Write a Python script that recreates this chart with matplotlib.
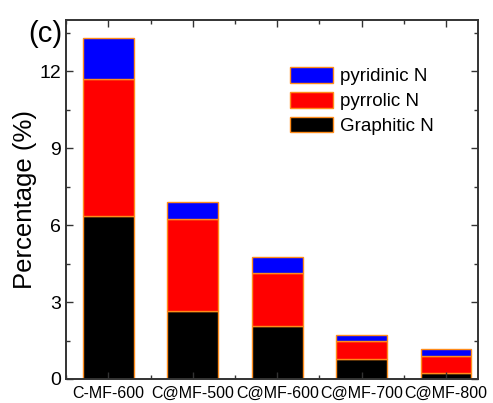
import matplotlib
matplotlib.use('Agg')
import matplotlib.pyplot as plt
from matplotlib.ticker import MultipleLocator
import numpy as np

plt.rcParams['font.family'] = ['Liberation Sans', 'DejaVu Sans']

samples = ['C-MF-600', 'C@MF-500', 'C@MF-600', 'C@MF-700', 'C@MF-800']
graphitic = [6.35, 2.67, 2.07, 0.77, 0.25]
pyrrolic = [5.35, 3.58, 2.08, 0.72, 0.63]
pyridinic = [1.62, 0.64, 0.61, 0.23, 0.28]

x = np.arange(1, len(samples) + 1)
edge = '#ff8c1a'

fig = plt.figure(figsize=(4.93, 4.03), dpi=100)
ax = fig.add_axes([0.134, 0.0596, 0.836, 0.8904])

b1 = ax.bar(x, graphitic, width=0.6, color='black', edgecolor=edge, linewidth=1, label='Graphitic N')
b2 = ax.bar(x, pyrrolic, width=0.6, bottom=graphitic, color='red', edgecolor=edge, linewidth=1, label='pyrrolic N')
bot = np.array(graphitic) + np.array(pyrrolic)
b3 = ax.bar(x, pyridinic, width=0.6, bottom=bot, color='blue', edgecolor=edge, linewidth=1, label='pyridinic N')

ax.set_xlim(0.5, 5.38)
ax.set_ylim(0, 14)
ax.set_xticks(x)
ax.set_xticklabels(samples, fontsize=11.5)
ax.xaxis.set_minor_locator(MultipleLocator(0.5))
ax.yaxis.set_major_locator(MultipleLocator(3))
ax.yaxis.set_minor_locator(MultipleLocator(1.5))
ax.tick_params(axis='y', labelsize=14)
ax.tick_params(which='both', direction='in', top=True, right=True, color='#333333')
ax.tick_params(which='major', length=5, width=1)
ax.tick_params(which='minor', length=3, width=1)
ax.tick_params(axis='x', pad=5)
for s in ax.spines.values():
    s.set_linewidth(1.4)
    s.set_color('#333333')

ax.set_ylabel('Percentage (%)', fontsize=18.5, labelpad=2)

ax.legend([b3, b2, b1], ['pyridinic N', 'pyrrolic N', 'Graphitic N'],
          loc='upper left', bbox_to_anchor=(0.52, 0.895), frameon=False,
          fontsize=13.5, handlelength=2.3, handleheight=0.9,
          labelspacing=0.35, handletextpad=0.4, borderpad=0)

fig.text(0.057, 0.895, '(c)', fontsize=21)

fig.savefig('out.png', dpi=100)
